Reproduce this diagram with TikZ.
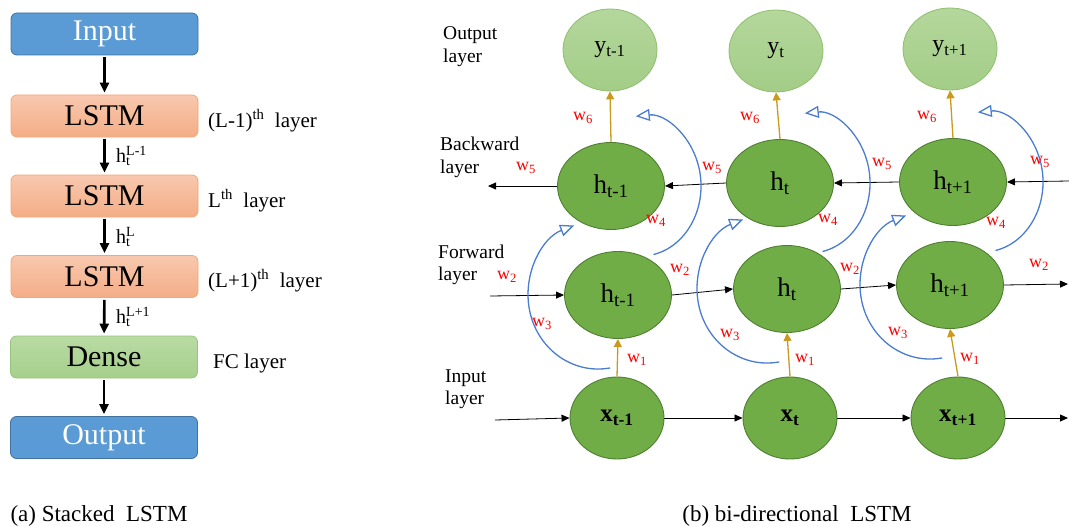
\documentclass[tikz,border=0pt]{standalone}
\usepackage{fontspec}
\setmainfont{Liberation Serif}
\usetikzlibrary{arrows.meta,shapes.geometric}
\definecolor{cblue}{HTML}{5B9BD5}
\definecolor{cblueb}{HTML}{41719C}
\definecolor{corgT}{HTML}{F8C8AF}
\definecolor{corgB}{HTML}{F4AD85}
\definecolor{corgb}{HTML}{F2A778}
\definecolor{cgrnT}{HTML}{B8DBA4}
\definecolor{cgrnB}{HTML}{A6CF8B}
\definecolor{cgrnb}{HTML}{98C57C}
\definecolor{cygT}{HTML}{B4D79C}
\definecolor{cygB}{HTML}{A3CD87}
\definecolor{cygb}{HTML}{8EBE6E}
\definecolor{cdg}{HTML}{70AD47}
\definecolor{cdgb}{HTML}{507E32}
\definecolor{cgold}{HTML}{C99A1E}
\definecolor{cbarc}{HTML}{4A7CCF}
\begin{document}
\begin{tikzpicture}[x=1pt,y=1pt,
  every node/.style={inner sep=0pt},
  box/.style={rectangle, rounded corners=6pt, minimum width=187pt, minimum height=42pt, font=\fontsize{30}{30}\selectfont, line width=0.8pt},
  bluebox/.style={box, fill=cblue, draw=cblueb, text=white},
  lstmbox/.style={box, top color=corgT, bottom color=corgB, draw=corgb},
  densebox/.style={box, top color=cgrnT, bottom color=cgrnB, draw=cgrnb},
  bigarr/.style={line width=2.6pt, -{Triangle[length=10pt,width=9pt]}, shorten <=2pt, shorten >=2pt},
  lab/.style={font=\fontsize{21}{21}\selectfont, anchor=base west},
  hlab/.style={font=\fontsize{20}{20}\selectfont, anchor=west},
  ynode/.style={ellipse, minimum width=94pt, minimum height=82pt, top color=cygT, bottom color=cygB, draw=cygb, line width=0.8pt, font=\fontsize{24}{24}\selectfont},
  hnode/.style={ellipse, minimum width=107pt, minimum height=87pt, fill=cdg, draw=cdgb, line width=0.9pt, font=\fontsize{27}{27}\selectfont},
  xnode/.style={ellipse, minimum width=94pt, minimum height=82pt, fill=cdg, draw=cdgb, line width=0.9pt, font={\fontsize{25}{25}\selectfont\bfseries}},
  arr/.style={line width=0.8pt, -{Triangle[length=8pt,width=7pt]}},
  garr/.style={line width=1.3pt, draw=cgold, -{Triangle[length=8pt,width=8pt,fill=cgold]}},
  barc/.style={line width=1.3pt, draw=cbarc, -{Triangle[open,length=14pt,width=12pt]}},
  wl/.style={text=red, font=\fontsize{18}{18}\selectfont},
  side/.style={font=\fontsize{19.5}{19.5}\selectfont, anchor=base west},
  captext/.style={font=\fontsize{23}{23}\selectfont}
]
\useasboundingbox (0,0) rectangle (1069,-527);
% ---------- (a) stacked LSTM ----------
\node[bluebox] (inp) at (104.5,-34) {Input};
\node[lstmbox] (l1) at (104.5,-116) {LSTM};
\node[lstmbox] (l2) at (104.5,-196) {LSTM};
\node[lstmbox] (l3) at (104.5,-276.5) {LSTM};
\node[densebox] (dense) at (104,-357) {Dense};
\node[bluebox] (outp) at (104,-437.5) {Output};
\draw[bigarr] (inp) -- (l1);
\draw[bigarr] (l1) -- (l2);
\draw[bigarr] (l2) -- (l3);
\draw[bigarr] (l3) -- (dense);
\draw[bigarr] (dense) -- (outp);
\node[hlab] (h1) at (116,-156) {h\rlap{\textsubscript{t}}\textsuperscript{L-1}};
\node[hlab] (h2) at (116,-237) {h\rlap{\textsubscript{t}}\textsuperscript{L}};
\node[hlab] (h3) at (116,-317) {h\rlap{\textsubscript{t}}\textsuperscript{L+1}};
\node[lab] (la1) at (208,-127) {(L-1)\textsuperscript{th}\ \ layer};
\node[lab] (la2) at (208,-207) {L\textsuperscript{th}\ \ layer};
\node[lab] (la3) at (208,-287) {(L+1)\textsuperscript{th}\ \ layer};
\node[lab] (la4) at (213,-368) {FC layer};
\node[captext] (capa) at (99,-516) {(a) Stacked\ \ LSTM};
% ---------- (b) bi-directional LSTM ----------
\node[side] (s1a) at (443,-40) {Output};
\node[side] (s1b) at (443,-63) {layer};
\node[side] (s2a) at (440,-150) {Backward};
\node[side] (s2b) at (440,-173) {layer};
\node[side] (s3a) at (438,-258) {Forward};
\node[side] (s3b) at (438,-280) {layer};
\node[side] (s4a) at (445,-382) {Input};
\node[side] (s4b) at (445,-404) {layer};
% nodes
\node[ynode] (y1) at (610,-50) {y\textsubscript{t-1}};
\node[ynode] (y2) at (776,-51) {y\textsubscript{t}};
\node[ynode] (y3) at (950,-49) {y\textsubscript{t+1}};
\node[hnode] (b1) at (611,-186) {h\textsubscript{t-1}};
\node[hnode] (b2) at (780,-183) {h\textsubscript{t}};
\node[hnode] (b3) at (953,-182) {h\textsubscript{t+1}};
\node[hnode] (f1) at (618,-295) {h\textsubscript{t-1}};
\node[hnode] (f2) at (787,-289) {h\textsubscript{t}};
\node[hnode] (f3) at (950,-285) {h\textsubscript{t+1}};
\node[xnode] (x1) at (617,-418) {x\textsubscript{t-1}};
\node[xnode] (x2) at (790,-418) {x\textsubscript{t}};
\node[xnode] (x3) at (958,-418) {x\textsubscript{t+1}};
% free ends
\coordinate (bl) at (488,-186);
\coordinate (br) at (1069,-181);
\coordinate (fl) at (490,-296);
\coordinate (fr) at (1068,-284);
\coordinate (il) at (495,-420);
\coordinate (ir) at (1068,-418);
% backward row
\draw[arr] (br) -- (b3.east);
\draw[arr] (b3.west) -- (b2.east);
\draw[arr] (b2.west) -- (b1.east);
\draw[arr] (b1.west) -- (bl);
% forward row
\draw[arr] (fl) -- (f1.west);
\draw[arr] (f1.east) -- (f2.west);
\draw[arr] (f2.east) -- (f3.west);
\draw[arr] (f3.east) -- (fr);
% input row
\draw[arr] (il) -- (x1.west);
\draw[arr] (x1.east) -- (x2.west);
\draw[arr] (x2.east) -- (x3.west);
\draw[arr] (x3.east) -- (ir);
% gold arrows
\draw[garr] (x1.north) -- (f1.south);
\draw[garr] (x2.north) -- (f2.south);
\draw[garr] (x3.north) -- (f3.south);
\draw[garr] (b1.north) -- (y1.south);
\draw[garr] (b2.north) -- (y2.south);
\draw[garr] (b3.north) -- (y3.south);
% blue arcs
\foreach \f in {f1,f2,f3}{
  \draw[barc] ([shift={(-7.8,-72.9)}]\f.center) arc[start angle=-80, end angle=-250, x radius=70, y radius=74];
}
\foreach \b in {b1,b2,b3}{
  \draw[barc] ([shift={(42.5,-68.5)}]\b.center) arc[start angle=-78, end angle=95, x radius=60, y radius=70];
}
% weight labels
\node[wl] (w61) at (583,-118) {w\textsubscript{6}};
\node[wl] (w62) at (750,-118) {w\textsubscript{6}};
\node[wl] (w63) at (927,-117) {w\textsubscript{6}};
\node[wl] (w51) at (526,-168) {w\textsubscript{5}};
\node[wl] (w52) at (712,-168) {w\textsubscript{5}};
\node[wl] (w53) at (882,-164) {w\textsubscript{5}};
\node[wl] (w54) at (1040,-162) {w\textsubscript{5}};
\node[wl] (w41) at (656,-221) {w\textsubscript{4}};
\node[wl] (w42) at (828,-220) {w\textsubscript{4}};
\node[wl] (w43) at (996,-223) {w\textsubscript{4}};
\node[wl] (w21) at (507,-277) {w\textsubscript{2}};
\node[wl] (w22) at (680,-270) {w\textsubscript{2}};
\node[wl] (w23) at (850,-269) {w\textsubscript{2}};
\node[wl] (w24) at (1039,-265) {w\textsubscript{2}};
\node[wl] (w31) at (542,-324) {w\textsubscript{3}};
\node[wl] (w32) at (730,-335) {w\textsubscript{3}};
\node[wl] (w33) at (898,-333) {w\textsubscript{3}};
\node[wl] (w11) at (637,-360) {w\textsubscript{1}};
\node[wl] (w12) at (805,-360) {w\textsubscript{1}};
\node[wl] (w13) at (970,-359) {w\textsubscript{1}};
\node[captext] (capb) at (797,-516) {(b) bi-directional\ \ LSTM};
\end{tikzpicture}
\end{document}
